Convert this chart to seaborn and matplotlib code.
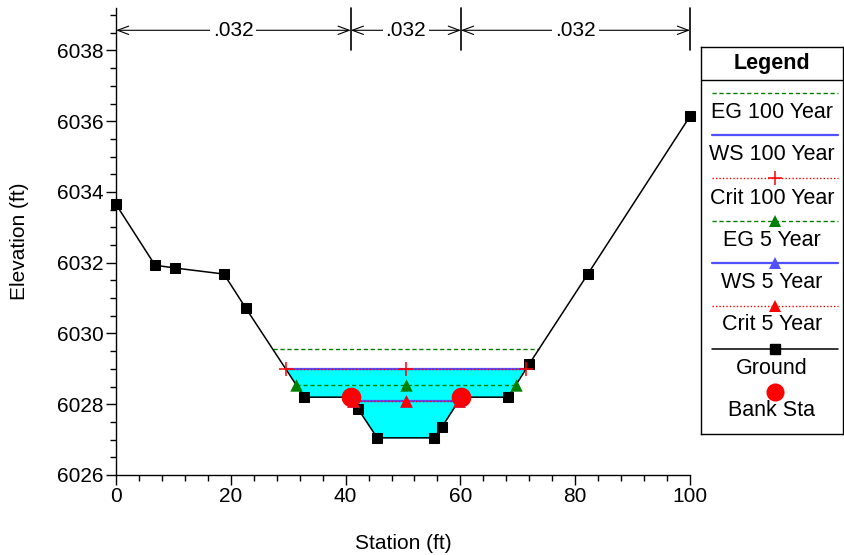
import numpy as np
import pandas as pd
import matplotlib
matplotlib.use('Agg')
import matplotlib.pyplot as plt
import seaborn as sns
from matplotlib.ticker import MultipleLocator

# ---------------- data ----------------
station = [0, 6.8, 10.3, 18.8, 22.6, 32.8, 40.9, 42.2, 45.5, 55.4, 56.8, 60.1, 68.3, 72.0, 82.2, 100]
elev = [6033.65, 6031.93, 6031.85, 6031.68, 6030.72, 6028.2, 6028.2, 6027.86,
        6027.05, 6027.05, 6027.36, 6028.2, 6028.2, 6029.14, 6031.68, 6036.14]
bank_sta = [40.9, 60.1]
n_values = ['.032', '.032', '.032']
n_breaks = [0, 40.9, 60.1, 100]
profiles = ['EG 100 Year', 'WS 100 Year', 'Crit 100 Year', 'EG 5 Year', 'WS 5 Year', 'Crit 5 Year']
levels = [6029.56, 6029.0, 6029.0, 6028.54, 6028.1, 6028.1]

sns.set_style('ticks')
plt.rcParams['font.family'] = ['Liberation Sans', 'DejaVu Sans']
for k in ['text.color', 'axes.labelcolor', 'xtick.color', 'ytick.color', 'axes.edgecolor']:
    plt.rcParams[k] = 'black'

st = np.array(station, float)
el = np.array(elev, float)
bank_el = np.interp(bank_sta, st, el)
imin = int(np.argmin(el))


def crossing(level):
    i = imin
    while el[i] < level:
        i -= 1
    xl = np.interp(level, [el[i + 1], el[i]], [st[i + 1], st[i]])
    j = imin
    while el[j] < level:
        j += 1
    xr = np.interp(level, [el[j - 1], el[j]], [st[j - 1], st[j]])
    return xl, xr


fig = plt.figure(figsize=(8.45, 5.55), dpi=100)
ax = fig.add_axes([116 / 845, 1 - 475 / 555, 574 / 845, 467 / 555])

FS = 15
LFS = 15.5
GREEN = '#008000'
BLUE = '#5050ff'
RED = '#ff0000'

# water fill for WS 100
xl, xr = crossing(levels[1])
xf = np.linspace(xl, xr, 600)
gf = np.interp(xf, st, el)
ax.fill_between(xf, gf, levels[1], where=gf <= levels[1], color='#00ffff', lw=0, zorder=1)

mid = (bank_sta[0] + bank_sta[1]) / 2

styles = {
    'EG 100 Year': dict(color=GREEN, ls=(0, (3, 2)), lw=1.0, marker=None),
    'WS 100 Year': dict(color=BLUE, ls='-', lw=1.6, marker=None),
    'Crit 100 Year': dict(color=RED, ls=(0, (1, 1.5)), lw=1.0, marker='+'),
    'EG 5 Year': dict(color=GREEN, ls=(0, (3, 2)), lw=1.0, marker='^'),
    'WS 5 Year': dict(color=BLUE, ls='-', lw=1.6, marker='^'),
    'Crit 5 Year': dict(color=RED, ls=(0, (1, 1.5)), lw=1.0, marker='^'),
}

for name, lev in zip(profiles, levels):
    s = styles[name]
    a, b = crossing(lev)
    df = pd.DataFrame({'x': [a, b], 'y': [lev, lev]})
    sns.lineplot(data=df, x='x', y='y', ax=ax, color=s['color'], linestyle=s['ls'],
                 lw=s['lw'], zorder=4, legend=False)
    if s['marker'] is not None:
        mk = pd.DataFrame({'x': [a, mid, b], 'y': [lev] * 3})
        if s['marker'] == '+':
            ax.plot(mk['x'], mk['y'], ls='none', marker='+', ms=10, mew=1.1, color=s['color'], zorder=9)
        else:
            sns.scatterplot(data=mk, x='x', y='y', ax=ax, marker='^', s=80, color=s['color'],
                            edgecolor=s['color'], linewidth=0, zorder=9, legend=False)

# ground
gdf = pd.DataFrame({'station': st, 'elev': el})
sns.lineplot(data=gdf, x='station', y='elev', ax=ax, sort=False, color='black', lw=1.1,
             marker='s', markersize=6.5, markeredgecolor='black', zorder=6, legend=False,
             clip_on=False)

# bank stations (over the ground squares)
sns.scatterplot(x=bank_sta, y=bank_el, ax=ax, color=RED, s=200, marker='o',
                edgecolor=RED, linewidth=0, zorder=7, legend=False)

# axes
ax.set_xlim(0, 100)
ax.set_ylim(6026, 6039.2)
ax.xaxis.set_major_locator(MultipleLocator(20))
ax.xaxis.set_minor_locator(MultipleLocator(4))
ax.yaxis.set_major_locator(MultipleLocator(2))
ax.yaxis.set_minor_locator(MultipleLocator(0.5))
ax.tick_params(which='major', direction='out', length=7, width=1, labelsize=FS, pad=2, color='black')
ax.tick_params(which='minor', direction='out', length=4, width=1, color='black')
for sp in ['top', 'right']:
    ax.spines[sp].set_visible(False)
for sp in ['left', 'bottom']:
    ax.spines[sp].set_linewidth(1)
    ax.spines[sp].set_color('black')
ax.set_xlabel('Station (ft)', fontsize=FS, labelpad=20)
ax.set_ylabel('Elevation (ft)', fontsize=FS, labelpad=20)

# Manning's n annotations
ytop = 6039.2
yarr = 6038.57
for xb in n_breaks[1:]:
    ax.plot([xb, xb], [6038.0, ytop], color='black', lw=1.2, clip_on=False, zorder=7)
for i, txt in enumerate(n_values):
    a, b = n_breaks[i], n_breaks[i + 1]
    ax.annotate('', xy=(a, yarr), xytext=(b, yarr),
                arrowprops=dict(arrowstyle='<->,head_length=0.8,head_width=0.3', color='black', lw=0.8,
                                shrinkA=0, shrinkB=0), annotation_clip=False)
    ax.text((a + b) / 2, yarr, txt, ha='center', va='center', fontsize=FS, zorder=8,
            bbox=dict(facecolor='white', edgecolor='none', pad=2))

# Legend panel
lax = fig.add_axes([701 / 845, 1 - 434 / 555, 142 / 845, 387 / 555])
lax.set_xlim(0, 142)
lax.set_ylim(387, 0)
lax.set_xticks([])
lax.set_yticks([])
for sp in lax.spines.values():
    sp.set_linewidth(1)
    sp.set_color('black')
lax.text(71, 16, 'Legend', ha='center', va='center', fontsize=LFS, fontweight='bold')
lax.plot([0, 142], [33, 33], color='black', lw=1)

entries = [
    ('EG 100 Year', 46, 66),
    ('WS 100 Year', 88, 107),
    ('Crit 100 Year', 131, 151),
    ('EG 5 Year', 174, 193),
    ('WS 5 Year', 216, 235),
    ('Crit 5 Year', 259, 278),
]
for name, yl, yt in entries:
    s = styles[name]
    lax.plot([11, 137], [yl, yl], color=s['color'], ls=s['ls'], lw=s['lw'])
    if s['marker'] == '+':
        lax.plot([74], [yl], marker='+', ms=10, mew=1.1, color=s['color'])
    elif s['marker'] == '^':
        lax.plot([74], [yl], marker='^', ms=9, mew=0, color=s['color'])
    lax.text(71, yt, name, ha='center', va='center', fontsize=LFS)
lax.plot([11, 137], [302, 302], color='black', lw=1.1)
lax.plot([74], [302], marker='s', ms=6.5, color='black')
lax.text(71, 321, 'Ground', ha='center', va='center', fontsize=LFS)
lax.plot([74], [345], marker='o', ms=13, mew=0, color=RED)
lax.text(71, 363, 'Bank Sta', ha='center', va='center', fontsize=LFS)

fig.savefig('out.png', dpi=100)
